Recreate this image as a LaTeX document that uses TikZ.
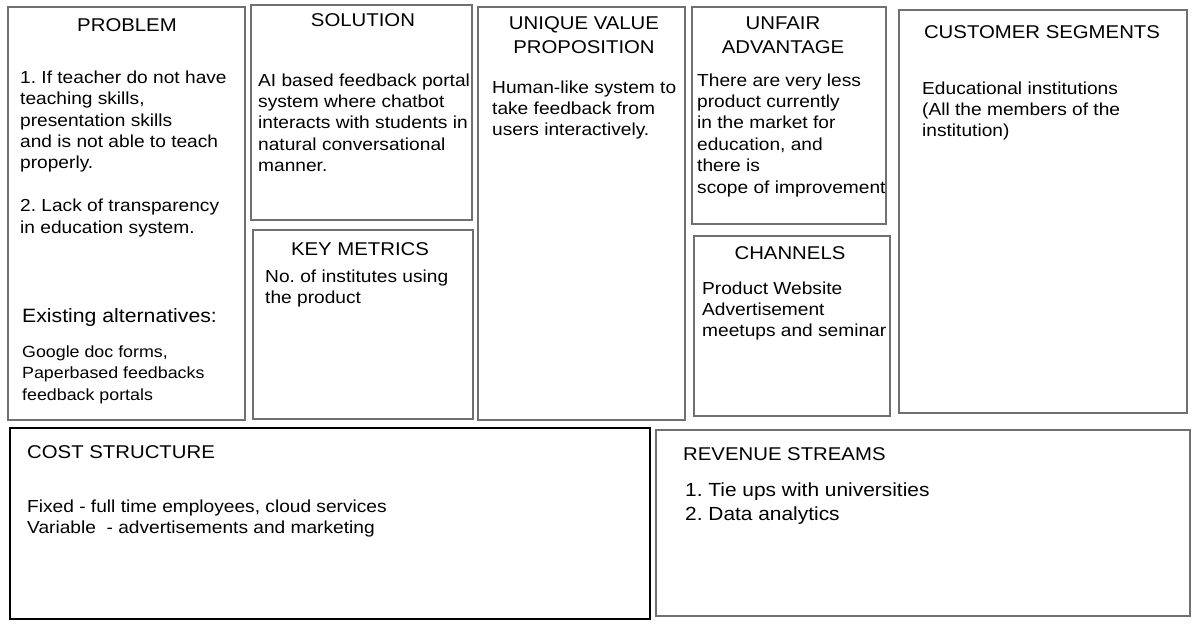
\documentclass[tikz,border=0pt]{standalone}
\usepackage{fontspec}
\setmainfont{Liberation Sans}[FakeStretch=1.1]
\usepackage{tikz}
\definecolor{panelgray}{RGB}{112,112,112}
\frenchspacing

\begin{document}
\begin{tikzpicture}[
        x=1pt, y=-1pt,
        every node/.style={font=\fontsize{17.4}{21.4}\selectfont},
        panel/.style={rectangle, draw=panelgray, line width=2pt, inner sep=0pt, outer sep=0pt, anchor=north west},
        costpanel/.style={panel, draw=black, line width=2.5pt},
        head/.style={font=\fontsize{18.5}{24}\selectfont, align=center, inner sep=0pt, anchor=base},
        lefthead/.style={head, anchor=base west},
        txt/.style={align=left, inner sep=0pt, anchor=base west}
    ]
    \fill[white] (0,0) rectangle (1200,630);
    \useasboundingbox (0,0) rectangle (1200,630);
    % panels of the canvas
    \node[panel, minimum width=237pt, minimum height=413pt] (problem) at (8,7) {};
    \node[panel, minimum width=221pt, minimum height=215pt] (solution) at (251,5) {};
    \node[panel, minimum width=220pt, minimum height=189pt] (metrics) at (253,230) {};
    \node[panel, minimum width=207pt, minimum height=413pt] (uvp) at (478,7) {};
    \node[panel, minimum width=194pt, minimum height=217pt] (unfair) at (692,7) {};
    \node[panel, minimum width=196pt, minimum height=180pt] (channels) at (694,236) {};
    \node[panel, minimum width=288pt, minimum height=403pt] (segments) at (899,10) {};
    \node[costpanel, minimum width=640pt, minimum height=191pt] (cost) at (10,428) {};
    \node[panel, minimum width=534pt, minimum height=186pt] (revenue) at (656,430) {};
    % headings (base of the last line)
    \node[head] (problemhead) at (127,31) {PROBLEM};
    \node[head] (solutionhead) at (363,26) {SOLUTION};
    \node[head] (metricshead) at (360,255) {KEY METRICS};
    \node[head] (uvphead) at (584,53) {UNIQUE VALUE\\PROPOSITION};
    \node[head] (unfairhead) at (783,53) {UNFAIR\\ADVANTAGE};
    \node[head] (channelshead) at (790,259) {CHANNELS};
    \node[head] (segmentshead) at (1042,38) {CUSTOMER SEGMENTS};
    \node[lefthead] (costhead) at (27,458) {COST STRUCTURE};
    \node[lefthead] (revenuehead) at (683,460) {REVENUE STREAMS};
    % contents (base of the last line)
    \node[txt] (problemtxt) at (20,233) {1. If teacher do not have\\teaching skills,\\presentation skills\\and is not able to teach\\properly.\\[21.4pt]2. Lack of transparency\\in education system.};
    \node[txt, font=\fontsize{19.3}{23}\selectfont] (existing) at (22,322) {Existing alternatives:};
    \node[txt, font=\fontsize{16.2}{21.5}\selectfont] (alternatives) at (22,400) {Google doc forms,\\Paperbased feedbacks\\feedback portals};
    \node[txt] (solutiontxt) at (258,171.6) {AI based feedback portal\\system where chatbot\\interacts with students in\\natural conversational\\manner.};
    \node[txt] (metricstxt) at (265,303.4) {No. of institutes using\\the product};
    \node[txt] (uvptxt) at (492,135.8) {Human-like system to\\take feedback from\\users interactively.};
    \node[txt] (unfairtxt) at (697,193) {There are very less\\product currently\\in the market for\\education, and\\there is\\scope of improvement};
    \node[txt] (channelstxt) at (702,336.8) {Product Website\\Advertisement\\meetups and seminar};
    \node[txt] (segmentstxt) at (922,136.8) {Educational institutions\\(All the members of the\\institution)};
    \node[txt] (costtxt) at (27,533.4) {Fixed - full time employees, cloud services\\Variable~ - advertisements and marketing};
    \node[txt, font=\fontsize{19}{24}\selectfont] (revenuetxt) at (685,520) {1. Tie ups with universities\\2. Data analytics};
\end{tikzpicture}
\end{document}
